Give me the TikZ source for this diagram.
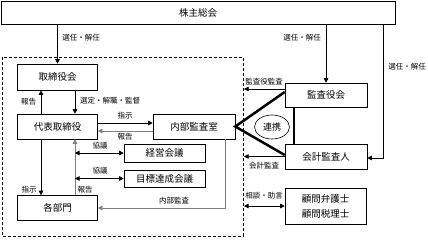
\documentclass[tikz,border=0pt]{standalone}
\usepackage{fontspec}
\setmainfont{Noto Sans CJK JP}
\usetikzlibrary{arrows.meta,shapes.geometric}
\tikzset{
  box/.style={draw,line width=0.6pt,inner sep=0pt,font=\fontsize{9.5}{11}\selectfont},
  lbl/.style={inner sep=0pt,font=\fontsize{7.5}{9}\selectfont},
  arr/.style={line width=0.6pt,-{Triangle[length=4.5pt,width=4.5pt]}},
  dbl/.style={line width=0.6pt,{Triangle[length=4.5pt,width=4.5pt]}-{Triangle[length=4.5pt,width=4.5pt]}},
  bond/.style={line width=2.5pt}
}
\begin{document}
\begin{tikzpicture}[x=1pt,y=-1pt]
  \useasboundingbox (0,0) rectangle (428,239);
  \coordinate (bd) at (244,0); \coordinate (rt) at (383,0);
  \node[box,minimum width=394pt,minimum height=23pt] (gm) at (198,12.5) {株主総会};
  \draw[dashed,line width=0.6pt,dash pattern=on 3pt off 2pt] (2,57) rectangle (243,236);
  \node[box,minimum width=80pt,minimum height=26pt] (tb) at (57.5,77) {取締役会};
  \node[box,minimum width=80pt,minimum height=25pt] (ceo) at (57.5,126.5) {代表取締役};
  \node[box,minimum width=80pt,minimum height=25pt] (dept) at (57.5,208) {各部門};
  \node[box,minimum width=82pt,minimum height=25pt] (ia) at (194,126.5) {内部監査室};
  \node[box,minimum width=81pt,minimum height=18pt] (mgmt) at (164.5,153) {経営会議};
  \node[box,minimum width=81pt,minimum height=17pt] (goal) at (164.5,178.5) {目標達成会議};
  \node[box,minimum width=82pt,minimum height=24pt] (kan) at (326,95) {監査役会};
  \node[box,minimum width=82pt,minimum height=25pt] (acct) at (326,156.5) {会計監査人};
  \node[box,minimum width=81pt,minimum height=36pt,align=center,
        font=\fontsize{9.5}{15}\selectfont] (adv) at (325.5,206) {顧問弁護士\\顧問税理士};
  \node[draw,ellipse,line width=0.6pt,minimum width=35pt,minimum height=24pt,inner sep=0pt,
        font=\fontsize{9}{11}\selectfont] (renkei) at (272,127) {連携};

  \draw[arr] (gm.south -| tb.north) -- (tb.north);
  \draw[arr] ([xshift=17.5pt]tb.south) -- ([xshift=17.5pt]ceo.north);
  \draw[arr] ([xshift=-16.5pt]ceo.north) -- ([xshift=-16.5pt]tb.south);
  \draw[arr] ([xshift=-16.5pt]ceo.south) -- ([xshift=-16.5pt]dept.north);
  \draw[arr,gray] ([xshift=17.5pt]dept.north) coordinate (rep) -- ([xshift=17.5pt]ceo.south);
  \draw[dbl] (mgmt.west -| rep) -- (mgmt.west);
  \draw[dbl] (goal.west -| rep) -- (goal.west);
  \draw[arr] ([yshift=3.5pt]ceo.east) -- ([yshift=3.5pt]ia.west);
  \draw[arr,gray] ([yshift=-4.5pt]ia.west) -- ([yshift=-4.5pt]ceo.east);
  \draw[arr,gray] ([xshift=31pt]ia.south) |- (dept.east);
  \draw[bond] ([yshift=3pt]kan.west) -- (ia.east) -- ([yshift=1.5pt]acct.west);
  \draw[bond] ([xshift=-32pt]kan.south) -- ([xshift=-32pt]acct.north);
  \draw[arr] ([yshift=6pt]kan.west) -- ([yshift=6pt]kan.west -| bd);
  \draw[arr] (acct.west) -- (acct.west -| bd);
  \draw[dbl] (adv.west -| bd) -- (adv.west);
  \draw[arr] (gm.south -| kan.north) -- (kan.north);
  \draw[arr] (gm.south -| rt) |- ([yshift=-1.5pt]acct.east);

  \node[lbl] (l-tb) at (81,38) {選任・解任};
  \node[lbl] (l-kan) at (302,38) {選任・解任};
  \node[lbl] (l-acct) at (407,67) {選任・解任};
  \node[lbl] (l-up1) at (28.5,102) {報告};
  \node[lbl,anchor=west] (l-sel) at (80,101) {選定・解職・監督};
  \node[lbl] (l-cmd1) at (125,116) {指示};
  \node[lbl] (l-rep1) at (125,137) {報告};
  \node[lbl] (l-kyo1) at (100,146) {協議};
  \node[lbl] (l-kyo2) at (100,171) {協議};
  \node[lbl] (l-cmd2) at (29,190) {指示};
  \node[lbl] (l-rep2) at (85,190) {報告};
  \node[lbl] (l-ia) at (174,201) {内部監査};
  \node[lbl] (l-kanaud) at (264,82) {監査役監査};
  \node[lbl] (l-acctaud) at (264,166) {会計監査};
  \node[lbl] (l-adv) at (264,196) {相談・助言};
\end{tikzpicture}
\end{document}
